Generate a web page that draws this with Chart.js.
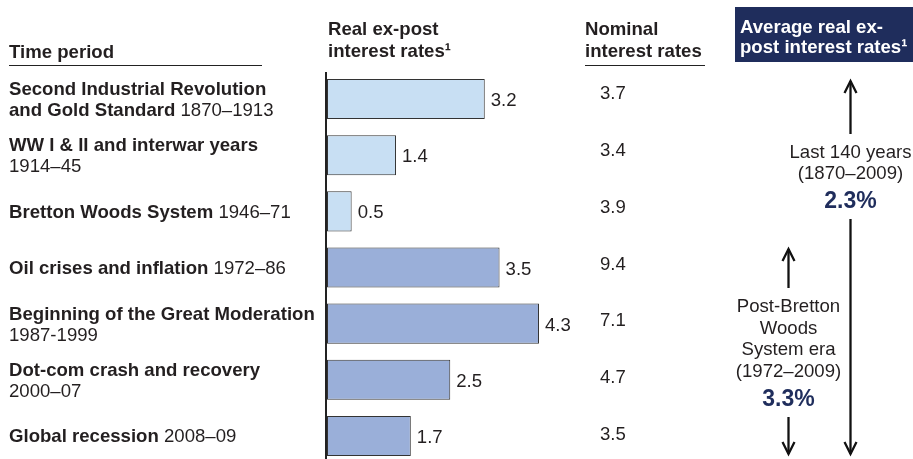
<!DOCTYPE html>
<html lang="en">
<head>
    <meta charset="UTF-8">
    <title>Real and nominal interest rates</title>
    <style>
        html, body { margin: 0; padding: 0; background: #fff; overflow: hidden; }
        #grafico { display: block; }
    </style>
</head>
<body>
    <canvas id="grafico" width="913" height="464"></canvas>

    <script src="https://cdn.jsdelivr.net/npm/chart.js"></script>
    <script>
        // Dados
        const periods = [
            'Second Industrial Revolution\nand Gold Standard',
            'WW I & II and interwar years',
            'Bretton Woods System',
            'Oil crises and inflation',
            'Beginning of the Great Moderation',
            'Dot-com crash and recovery',
            'Global recession'
        ];
        const periodYears = ['1870–1913', '1914–45', '1946–71', '1972–86', '1987-1999', '2000–07', '2008–09'];
        const yearsOnNewLine = [false, true, false, false, true, true, false];
        const realRates = [3.2, 1.4, 0.5, 3.5, 4.3, 2.5, 1.7];
        const nominalRates = [3.7, 3.4, 3.9, 9.4, 7.1, 4.7, 3.5];
        const avgLast140 = '2.3%';
        const avgPostBretton = '3.3%';

        const FONT = '"Liberation Sans", Arial, Helvetica, sans-serif';
        const SIZE = 18.6;
        const TEXT = '#231f20';
        const NAVY = '#1f2d5c';
        const LIGHT = '#c8dff3';
        const DARK = '#9aafd9';

        function font(size, bold) {
            return (bold ? 'bold ' : '') + size + 'px ' + FONT;
        }

        // texto com partes em negrito e normais
        function richText(ctx, parts, x, y) {
            let cx = x;
            parts.forEach(p => {
                ctx.font = font(SIZE, p[1]);
                ctx.fillText(p[0], cx, y);
                cx += ctx.measureText(p[0]).width;
            });
        }

        function arrow(ctx, x, y1, y2, head) {
            // y1 = start of shaft, y2 = tip
            ctx.beginPath();
            ctx.moveTo(x, y1);
            ctx.lineTo(x, y2);
            ctx.stroke();
            const dir = y2 > y1 ? -1 : 1;
            ctx.beginPath();
            ctx.moveTo(x - 6, y2 + dir * head);
            ctx.lineTo(x, y2);
            ctx.lineTo(x + 6, y2 + dir * head);
            ctx.stroke();
        }

        const decoracao = {
            id: 'decoracao',
            afterDatasetsDraw(chart) {
                const ctx = chart.ctx;
                const area = chart.chartArea;
                const yScale = chart.scales.y;
                const xScale = chart.scales.x;
                ctx.save();

                // eixo vertical
                ctx.strokeStyle = '#222';
                ctx.lineWidth = 2;
                ctx.beginPath();
                ctx.moveTo(area.left - 1, area.top + 1);
                ctx.lineTo(area.left - 1, chart.height);
                ctx.stroke();

                // cabeçalhos
                ctx.fillStyle = TEXT;
                ctx.textBaseline = 'alphabetic';
                ctx.textAlign = 'left';
                ctx.font = font(SIZE, true);
                ctx.fillText('Time period', 9, 58);
                ctx.fillText('Real ex-post', 328, 35);
                ctx.fillText('interest rates¹', 328, 57);
                ctx.fillText('Nominal', 585, 35);
                ctx.fillText('interest rates', 585, 57);

                ctx.lineWidth = 1;
                ctx.strokeStyle = '#222';
                ctx.beginPath();
                ctx.moveTo(9, 65.5);
                ctx.lineTo(262, 65.5);
                ctx.moveTo(585, 65.5);
                ctx.lineTo(705, 65.5);
                ctx.stroke();

                // caixa azul
                ctx.fillStyle = NAVY;
                ctx.fillRect(735, 7, 178, 55);
                ctx.fillStyle = '#fff';
                ctx.font = font(SIZE, true);
                ctx.fillText('Average real ex-', 740, 33);
                ctx.fillText('post interest rates¹', 740, 53);

                // linhas da tabela
                realRates.forEach((v, i) => {
                    const c = yScale.getPixelForValue(i);
                    ctx.fillStyle = TEXT;
                    ctx.textAlign = 'left';

                    const nameLines = periods[i].split('\n');
                    const lines = nameLines.map(t => [[t, true]]);
                    if (yearsOnNewLine[i]) {
                        lines.push([[periodYears[i], false]]);
                    } else {
                        lines[lines.length - 1].push([' ' + periodYears[i], false]);
                    }
                    if (lines.length === 1) {
                        richText(ctx, lines[0], 9, c + 6.5);
                    } else {
                        richText(ctx, lines[0], 9, c - 4);
                        richText(ctx, lines[1], 9, c + 17);
                    }

                    // rótulo da barra
                    ctx.font = font(SIZE, false);
                    ctx.fillText(v.toFixed(1), xScale.getPixelForValue(v) + 6, c + 7);

                    // taxa nominal
                    ctx.fillText(nominalRates[i].toFixed(1), 600, c + 4 - (6 - i) * 0.6);
                });

                // painel da direita
                ctx.strokeStyle = '#111';
                ctx.lineWidth = 2.3;
                arrow(ctx, 850.5, 134, 81, 12);
                arrow(ctx, 850.5, 219, 454, 12);
                arrow(ctx, 788.5, 288, 249, 12);
                arrow(ctx, 788.5, 417, 454, 12);

                ctx.textAlign = 'center';
                ctx.fillStyle = TEXT;
                ctx.font = font(SIZE, false);
                ctx.fillText('Last 140 years', 850.5, 157.5);
                ctx.fillText('(1870–2009)', 850.5, 179);
                ctx.fillText('Post-Bretton', 788.5, 312);
                ctx.fillText('Woods', 788.5, 333.5);
                ctx.fillText('System era', 788.5, 355);
                ctx.fillText('(1972–2009)', 788.5, 377);

                ctx.fillStyle = NAVY;
                ctx.font = font(23, true);
                ctx.fillText(avgLast140, 850.5, 208);
                ctx.fillText(avgPostBretton, 788.5, 406);

                ctx.restore();
            }
        };

        const ctxBar = document.getElementById('grafico').getContext('2d');

        const graficoBarras = new Chart(ctxBar, {
            type: 'bar',
            data: {
                labels: periods,
                datasets: [
                    {
                        label: 'Real ex-post interest rates',
                        data: realRates,
                        backgroundColor: realRates.map((v, i) => i < 3 ? LIGHT : DARK),
                        borderColor: '#333',
                        borderWidth: 1,
                        borderSkipped: false,
                        barPercentage: 40 / 56,
                        categoryPercentage: 1
                    }
                ]
            },
            options: {
                indexAxis: 'y',
                responsive: false,
                maintainAspectRatio: false,
                animation: false,
                layout: {
                    padding: { left: 327, right: 93, top: 71, bottom: 0 }
                },
                scales: {
                    x: { display: false, min: 0, max: 10 },
                    y: { display: false, offset: true }
                },
                plugins: {
                    legend: { display: false },
                    tooltip: { enabled: false },
                    title: { display: false }
                }
            },
            plugins: [decoracao]
        });
    </script>
</body>
</html>
